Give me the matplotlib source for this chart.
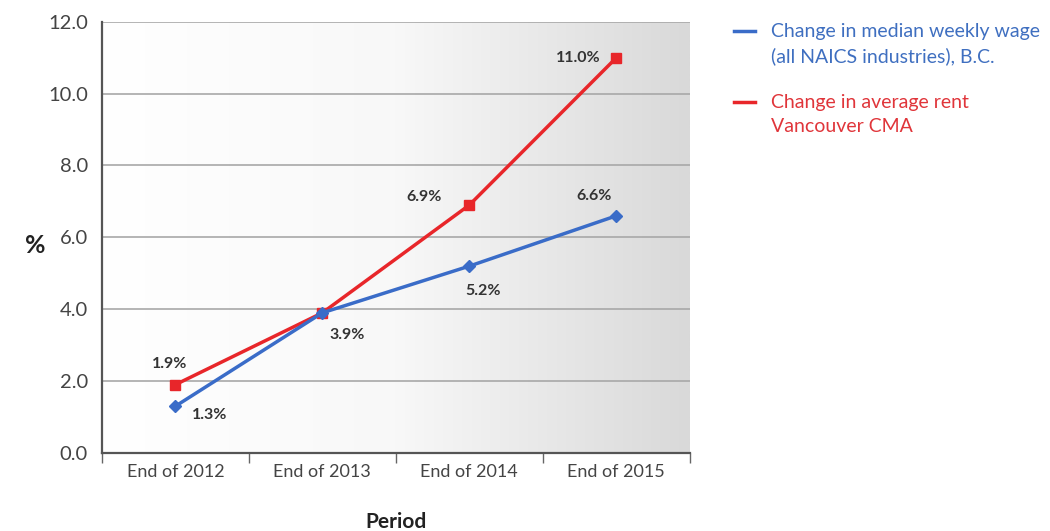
import numpy as np
import matplotlib.pyplot as plt
from matplotlib.lines import Line2D
from matplotlib.legend_handler import HandlerLine2D
from matplotlib.colors import LinearSegmentedColormap

plt.rcParams['font.family'] = ['Lato', 'DejaVu Sans']

periods = ["End of 2012", "End of 2013", "End of 2014", "End of 2015"]
wage = [1.3, 3.9, 5.2, 6.6]
rent = [1.9, 3.9, 6.9, 11.0]
wage_label = "Change in median weekly wage\n(all NAICS industries), B.C."
rent_label = "Change in average rent\nVancouver CMA"

blue = "#3a6cc8"
red = "#e8262a"


class FirstLineHandler(HandlerLine2D):
    # put the legend line next to the first line of a two-line label
    def create_artists(self, legend, orig_handle, xdescent, ydescent,
                       width, height, fontsize, trans):
        arts = super().create_artists(legend, orig_handle, xdescent, ydescent,
                                      width, height, fontsize, trans)
        for a in arts:
            a.set_ydata(np.asarray(a.get_ydata()) + 0.68 * fontsize)
        return arts


fig = plt.figure(figsize=(10.5, 5.31), dpi=100)
ax = fig.add_axes([0.097, 0.147, 0.56, 0.812])

x = np.arange(len(periods))
ax.set_xlim(-0.5, len(periods) - 0.5)
ax.set_ylim(0, 12)

# gradient background, white on the left to light grey on the right
cmap = LinearSegmentedColormap.from_list("bg", ["#ffffff", "#f8f8f8", "#d9d9d9"])
grad = np.linspace(0, 1, 256).reshape(1, -1)
ax.imshow(grad, cmap=cmap, extent=[-0.5, len(periods) - 0.5, 0, 12],
          aspect="auto", zorder=0)

ax.set_yticks(np.arange(0, 13, 2))
ax.set_yticklabels([f"{v:.1f}" for v in np.arange(0, 13, 2)], fontsize=14.5, color="#444444")
ax.yaxis.grid(True, color="#a8a8a8", linewidth=1.2, zorder=1)
ax.tick_params(axis="y", length=0, pad=10)

ax.set_xticks(x)
ax.set_xticklabels(periods, fontsize=13, color="#444444")
ax.set_xticks(np.arange(-0.5, len(periods)), minor=True)
ax.tick_params(axis="x", which="major", length=0, pad=8)
ax.tick_params(axis="x", which="minor", length=7, color="#666666", width=1)

for s in ["top", "right"]:
    ax.spines[s].set_visible(False)
for s in ["left", "bottom"]:
    ax.spines[s].set_color("#555555")
    ax.spines[s].set_linewidth(1.6)

ax.plot(x, rent, color=red, lw=2.5, marker="s", ms=7, zorder=3)
ax.plot(x, wage, color=blue, lw=2.5, marker="D", ms=6.5, zorder=3)

lab_kw = dict(fontsize=11.5, fontweight="bold", color="#333333", zorder=4)
# wage labels
ax.annotate(f"{wage[0]:.1f}%", (x[0], wage[0]), xytext=(12, -6), textcoords="offset points", ha="left", va="center", **lab_kw)
ax.annotate(f"{wage[1]:.1f}%", (x[1], wage[1]), xytext=(18, -16), textcoords="offset points", ha="center", va="center", **lab_kw)
ax.annotate(f"{wage[2]:.1f}%", (x[2], wage[2]), xytext=(10, -18), textcoords="offset points", ha="center", va="center", **lab_kw)
ax.annotate(f"{wage[3]:.1f}%", (x[3], wage[3]), xytext=(-16, 14), textcoords="offset points", ha="center", va="center", **lab_kw)
# rent labels
ax.annotate(f"{rent[0]:.1f}%", (x[0], rent[0]), xytext=(-4, 15), textcoords="offset points", ha="center", va="center", **lab_kw)
ax.annotate(f"{rent[2]:.1f}%", (x[2], rent[2]), xytext=(-20, 6), textcoords="offset points", ha="right", va="center", **lab_kw)
ax.annotate(f"{rent[3]:.1f}%", (x[3], rent[3]), xytext=(-11, 0), textcoords="offset points", ha="right", va="center", **lab_kw)

ax.set_xlabel("Period", fontsize=15, fontweight="bold", color="#222222", labelpad=23)
fig.text(0.024, 0.538, "%", fontsize=18, fontweight="bold", color="#222222", va="center")

handles = [Line2D([], [], color=blue, lw=2.5), Line2D([], [], color=red, lw=2.5)]
leg = fig.legend(handles, [wage_label, rent_label], loc="upper left",
                 bbox_to_anchor=(0.682, 0.99), frameon=False, fontsize=14,
                 handlelength=1.1, handletextpad=0.8, labelspacing=1.5,
                 handler_map={Line2D: FirstLineHandler()})
for t, c in zip(leg.get_texts(), ["#3f6fc0", "#e0353a"]):
    t.set_color(c)
    t.set_linespacing(1.5)

fig.savefig("out.png", dpi=100)
